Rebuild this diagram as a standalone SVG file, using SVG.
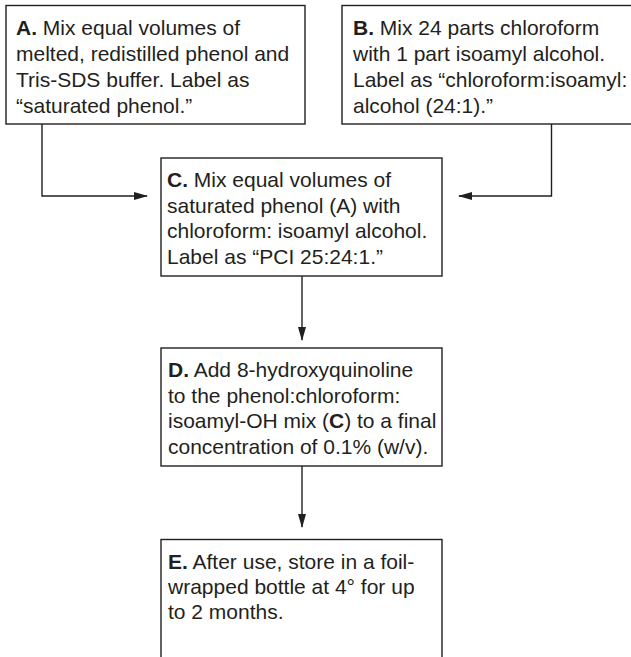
<svg xmlns="http://www.w3.org/2000/svg" width="631" height="657" viewBox="0 0 631 657">
<defs>
<style>
.box{fill:#fff;stroke:#231f20;stroke-width:1.4}
.t{font-family:"Liberation Sans",Arial,Helvetica,sans-serif;font-size:21px;fill:#231f20}
.b{font-weight:bold}
.c{fill:none;stroke:#231f20;stroke-width:1.4}
</style>
<marker id="ah" markerWidth="14" markerHeight="8" refX="13" refY="4" orient="auto" markerUnits="userSpaceOnUse">
<path d="M0,0 L14,4 L0,8 Z" fill="#231f20"/>
</marker>
</defs>
<rect width="631" height="657" fill="#fff"/>
<g id="connectors">
<path class="c" d="M42,124 V196 H147" marker-end="url(#ah)"/>
<path class="c" d="M551.5,124 V196 H459" marker-end="url(#ah)"/>
<path class="c" d="M302,276 V340" marker-end="url(#ah)"/>
<path class="c" d="M302,466 V527" marker-end="url(#ah)"/>
</g>
<g id="nodeA">
<rect class="box" x="6" y="5.5" width="299" height="118.5"/>
<text class="t"><tspan x="16" y="34.5"><tspan class="b">A.</tspan> Mix equal volumes of</tspan><tspan x="16" y="60.5">melted, redistilled phenol and</tspan><tspan x="16" y="86.5">Tris-SDS buffer. Label as</tspan><tspan x="16" y="112.5">“saturated phenol.”</tspan></text>
</g>
<g id="nodeB">
<rect class="box" x="342" y="5.5" width="300" height="118.5"/>
<text class="t"><tspan x="353" y="34.5"><tspan class="b">B.</tspan> Mix 24 parts chloroform</tspan><tspan x="353" y="60.5">with 1 part isoamyl alcohol.</tspan><tspan x="353" y="86.5">Label as “chloroform:isoamyl:</tspan><tspan x="353" y="112.5">alcohol (24:1).”</tspan></text>
</g>
<g id="nodeC">
<rect class="box" x="161" y="158" width="281" height="118"/>
<text class="t"><tspan x="167" y="187"><tspan class="b">C.</tspan> Mix equal volumes of</tspan><tspan x="167" y="212.7">saturated phenol (A) with</tspan><tspan x="167" y="238.4">chloroform: isoamyl alcohol.</tspan><tspan x="167" y="264.1">Label as “PCI 25:24:1.”</tspan></text>
</g>
<g id="nodeD">
<rect class="box" x="161" y="348" width="281" height="118"/>
<text class="t"><tspan x="168" y="377"><tspan class="b">D.</tspan> Add 8-hydroxyquinoline</tspan><tspan x="168" y="402.5">to the phenol:chloroform:</tspan><tspan x="168" y="428">isoamyl-OH mix (<tspan class="b">C</tspan>) to a final</tspan><tspan x="168" y="453.5">concentration of 0.1% (w/v).</tspan></text>
</g>
<g id="nodeE">
<rect class="box" x="161" y="539.5" width="281" height="130"/>
<text class="t"><tspan x="168" y="569"><tspan class="b">E.</tspan> After use, store in a foil-</tspan><tspan x="168" y="594">wrapped bottle at 4° for up</tspan><tspan x="168" y="619">to 2 months.</tspan></text>
</g>
</svg>
